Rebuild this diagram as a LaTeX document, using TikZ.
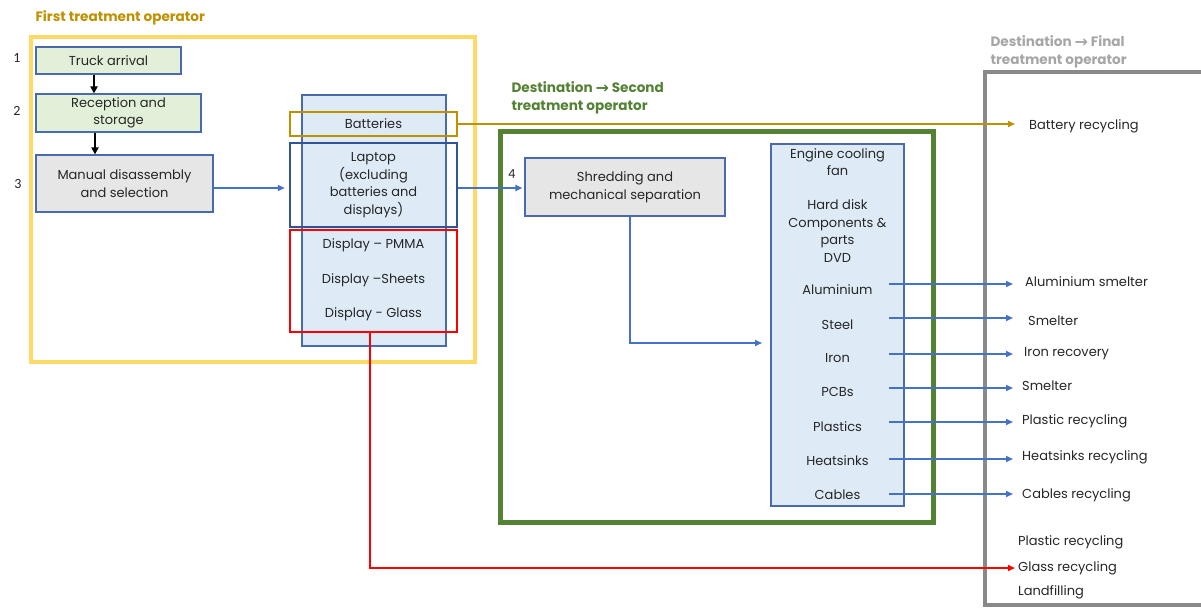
\documentclass[tikz,border=0pt]{standalone}
\usepackage{fontspec}
\setmainfont{Poppins}
\newfontfamily\symfont{DejaVu Sans}
\newfontfamily\numfont{Carlito}
\usetikzlibrary{arrows.meta}
\definecolor{goldtxt}{HTML}{BF9000}
\definecolor{yellowfr}{HTML}{FFD966}
\definecolor{greenfr}{HTML}{548235}
\definecolor{grayfr}{HTML}{898989}
\definecolor{graytxt}{HTML}{A6A6A6}
\definecolor{flowblue}{HTML}{4472C4}
\definecolor{darkblue}{HTML}{2F5597}
\definecolor{boxline}{HTML}{4A6AAE}
\definecolor{lightblue}{HTML}{DEEBF7}
\definecolor{lightgreen}{HTML}{E2F0D9}
\definecolor{lightgray}{HTML}{E7E6E6}
\definecolor{redline}{HTML}{FF0000}
\definecolor{bodytxt}{HTML}{262626}
\newcommand{\flowto}{{\symfont\bfseries\fontsize{16}{18}\selectfont\raisebox{-0.5pt}{→}}}
\begin{document}
\begin{tikzpicture}[x=1pt,y=-1pt,
  every node/.style={text=bodytxt, font=\fontsize{13}{17.5}\selectfont},
  proc/.style={draw=boxline, line width=1.1pt, align=center, inner sep=0pt,
    minimum width=#1},
  stepnum/.style={font=\numfont\fontsize{14}{16}\selectfont},
  title/.style={anchor=west, align=left, font=\bfseries\fontsize{13.6}{18}\selectfont},
  frame/.style={line width=4pt},
  item/.style={align=center, inner sep=0pt},
  dest/.style={anchor=west, inner ysep=0pt},
  blackarr/.style={draw=black, line width=1.8pt, -{Triangle[length=7pt,width=7pt]}},
  bluearr/.style={draw=flowblue, line width=1.8pt, -{Triangle[length=7pt,width=6pt]}},
  goldarr/.style={draw=goldtxt, line width=1.8pt, -{Triangle[length=7pt,width=6pt]}},
  redarr/.style={draw=redline, line width=1.8pt, -{Triangle[length=7pt,width=6pt]}},
]
\useasboundingbox (0,0) rectangle (1201,608);

% ---------- first treatment operator ----------
\node[title, text=goldtxt] (t1) at (32,18) {First treatment operator};
\draw[frame, yellowfr] (31,37) rectangle (475,362);

\node[stepnum] (n1) at (17,58) {1};
\node[stepnum] (n2) at (17,111) {2};
\node[stepnum] (n3) at (18,184) {3};

\node[proc=145pt, minimum height=27pt, fill=lightgreen] (truck) at (108.5,60.5) {Truck arrival};
\node[proc=165pt, minimum height=38pt, fill=lightgreen] (recep) at (118.5,113) {Reception and\\storage};
\node[proc=177pt, minimum height=57pt, fill=lightgray] (manual) at (124.5,183.5) {Manual disassembly\\and selection};

\draw[blackarr] (truck.south -| 94,0) -- (recep.north -| 94,0);
\draw[blackarr] (recep.south -| 95,0) -- (manual.north -| 95,0);

% fractions leaving manual disassembly
\node[proc=144pt, minimum height=251pt, fill=lightblue] (frac) at (374,220.5) {};
\node[draw=goldtxt, line width=2pt, minimum width=167pt, minimum height=24pt, inner sep=0pt] (batt) at (373.5,124) {Batteries};
\node[draw=darkblue, line width=2.4pt, minimum width=167pt, minimum height=84pt, inner sep=0pt, align=center] (laptop) at (373.5,185) {Laptop\\(excluding\\batteries and\\displays)};
\node[draw=redline, line width=2.4pt, minimum width=167pt, minimum height=102pt, inner sep=0pt] (disp) at (373.5,281) {};
\node[item] (pmma) at (373.5,245) {Display – PMMA};
\node[item] (sheets) at (373.5,280) {Display –Sheets};
\node[item] (glass) at (373.5,314) {Display - Glass};

\draw[bluearr] ([yshift=-4.5pt]manual.east) -- ([yshift=-4.5pt,xshift=-4pt]manual.east -| laptop.west);

% ---------- second treatment operator ----------
\node[title, text=greenfr] (t2) at (508,98) {Destination \flowto{} Second\\treatment operator};
\draw[frame, greenfr, line width=5pt] (500,131) rectangle (933,522);

\node[stepnum] (n4) at (512,174) {4};
\node[proc=200pt, minimum height=58pt, fill=lightgray] (shred) at (625,187) {Shredding and\\mechanical separation};
\draw[bluearr] ([yshift=-3pt]laptop.east) -- ([yshift=-3pt,xshift=-2pt]laptop.east -| shred.west);

\node[proc=133pt, minimum height=362pt, fill=lightblue] (mat) at (837.5,325) {};
\node[item] (fan) at (837.5,162) {Engine cooling\\fan};
\node[item] (parts) at (837.5,231) {Hard disk\\Components \&\\parts\\DVD};
\node[item] (alu) at (837.5,290) {Aluminium};
\node[item] (steel) at (837.5,325) {Steel};
\node[item] (iron) at (837.5,358) {Iron};
\node[item] (pcb) at (837.5,392) {PCBs};
\node[item] (plast) at (837.5,427) {Plastics};
\node[item] (heat) at (837.5,461) {Heatsinks};
\node[item] (cable) at (837.5,495) {Cables};

\coordinate (matin) at (762,343);
\draw[bluearr] (shred.south -| 630,0) |- (matin);

% ---------- final treatment operator ----------
\node[title, text=graytxt] (t3) at (987,52) {Destination \flowto{} Final\\treatment operator};
\draw[frame, grayfr] (1210,72) -| (985,605) -- (1210,605);

\node[dest, inner xsep=14pt] (battD) at (1015,126) {Battery recycling};
\node[dest, inner xsep=12pt] (aluD) at (1013,282) {Aluminium smelter};
\node[dest, inner xsep=15pt] (steelD) at (1013,321) {Smelter};
\node[dest, inner xsep=11pt] (ironD) at (1013,354) {Iron recovery};
\node[dest, inner xsep=9pt] (pcbD) at (1013,386) {Smelter};
\node[dest, inner xsep=9pt] (plastD) at (1013,421) {Plastic recycling};
\node[dest, inner xsep=9pt] (heatD) at (1013,457) {Heatsinks recycling};
\node[dest, inner xsep=9pt] (cableD) at (1013,495) {Cables recycling};
\node[dest, inner xsep=3pt] (plast2D) at (1015,542) {Plastic recycling};
\node[dest, inner xsep=3pt] (glassD) at (1015,568) {Glass recycling};
\node[dest, inner xsep=3pt] (landD) at (1015,592) {Landfilling};

% material flows to the final operators
\coordinate (aluS) at (889,284);
\coordinate (steelS) at (889,318);
\coordinate (ironS) at (889,354);
\coordinate (pcbS) at (889,388);
\coordinate (plastS) at (889,422);
\coordinate (heatS) at (889,459);
\coordinate (cableS) at (889,494);
\draw[bluearr] (aluS) -- (aluS -| aluD.west);
\draw[bluearr] (steelS) -- (steelS -| steelD.west);
\draw[bluearr] (ironS) -- (ironS -| ironD.west);
\draw[bluearr] (pcbS) -- (pcbS -| pcbD.west);
\draw[bluearr] (plastS) -- (plastS -| plastD.west);
\draw[bluearr] (heatS) -- (heatS -| heatD.west);
\draw[bluearr] (cableS) -- (cableS -| cableD.west);

\draw[goldarr] (batt.east) -- (batt.east -| battD.west);
\draw[redarr] (disp.south -| 370,0) |- (glassD.west);
\end{tikzpicture}
\end{document}
